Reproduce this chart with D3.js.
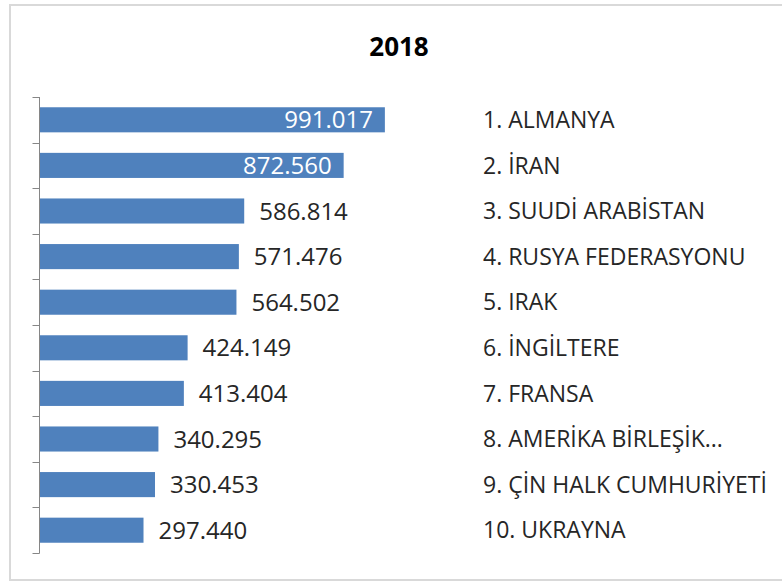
<!DOCTYPE html>
<html>
<head>
<meta charset="utf-8">
<script src="https://cdn.jsdelivr.net/npm/d3@7"></script>
<style>
  body { margin: 0; background: #fff; }
  text { font-family: "Open Sans", Lato, sans-serif; }
</style>
</head>
<body>
<div class="container"></div>
<script>
const size = { width: 782, height: 582 };

// data
const categories = ["1. ALMANYA", "2. İRAN", "3. SUUDİ ARABİSTAN", "4. RUSYA FEDERASYONU",
                    "5. IRAK", "6. İNGİLTERE", "7. FRANSA", "8. AMERİKA BİRLEŞİK...",
                    "9. ÇİN HALK CUMHURİYETİ", "10. UKRAYNA"];
const values = [991017, 872560, 586814, 571476, 564502, 424149, 413404, 340295, 330453, 297440];
const labels = ["991.017", "872.560", "586.814", "571.476", "564.502",
                "424.149", "413.404", "340.295", "330.453", "297.440"];
const insideLabels = [true, true, false, false, false, false, false, false, false, false];

const datos = categories.map((c, i) => ({ cat: c, val: values[i], lab: labels[i], inside: insideLabels[i] }));

const svg = d3.select(".container")
              .append("svg")
              .attr("width", size.width)
              .attr("height", size.height);

// chart border (right edge is off-page)
svg.append("rect")
   .attr("x", 10).attr("y", 5)
   .attr("width", 800).attr("height", 575)
   .attr("fill", "none")
   .attr("stroke", "#d9d9d9")
   .attr("stroke-width", 2);

svg.append("text")
   .attr("x", 399).attr("y", 56)
   .attr("text-anchor", "middle")
   .attr("font-size", 26)
   .attr("font-weight", "bold")
   .attr("fill", "#000")
   .text("2018");

const x = d3.scaleLinear().domain([0, 1000000]).range([40, 388]);
const y = d3.scaleBand()
            .domain(categories)
            .range([97, 553])
            .paddingInner(0.45)
            .paddingOuter(0.225);

// category axis on the left, labels hidden (they sit at the right)
const axis = svg.append("g")
   .attr("transform", "translate(39.5,0)");

const edges = categories.map((c) => y(c) - y.step() * y.paddingInner() / 2);
edges.push(553);
axis.selectAll("line.sep")
    .data(edges)
    .enter()
      .append("line")
      .attr("class", "sep")
      .attr("x1", -7).attr("x2", 0)
      .attr("y1", (d) => Math.round(d) + 0.5)
      .attr("y2", (d) => Math.round(d) + 0.5)
      .attr("stroke", "#868686");
axis.append("line")
    .attr("x1", 0).attr("x2", 0)
    .attr("y1", 97).attr("y2", 553.5)
    .attr("stroke", "#868686");

svg.selectAll("rect.bar")
   .data(datos)
   .enter()
     .append("rect")
     .attr("class", "bar")
     .attr("x", x(0))
     .attr("y", (d) => y(d.cat))
     .attr("width", (d) => x(d.val) - x(0))
     .attr("height", y.bandwidth())
     .attr("fill", "#4f81bd");

svg.selectAll("text.val")
   .data(datos)
   .enter()
     .append("text")
     .attr("class", "val")
     .attr("x", (d) => d.inside ? x(d.val) - 12 : x(d.val) + 15)
     .attr("y", (d) => y(d.cat) + y.bandwidth() / 2)
     .attr("dy", "0.36em")
     .attr("text-anchor", (d) => d.inside ? "end" : "start")
     .attr("font-size", 24)
     .attr("fill", (d) => d.inside ? "#fff" : "#262626")
     .text((d) => d.lab);

svg.selectAll("text.cat")
   .data(datos)
   .enter()
     .append("text")
     .attr("class", "cat")
     .attr("x", 483)
     .attr("y", (d) => y(d.cat) + y.bandwidth() / 2)
     .attr("dy", "0.36em")
     .attr("font-size", 23)
     .attr("fill", "#262626")
     .text((d) => d.cat);
</script>
</body>
</html>
